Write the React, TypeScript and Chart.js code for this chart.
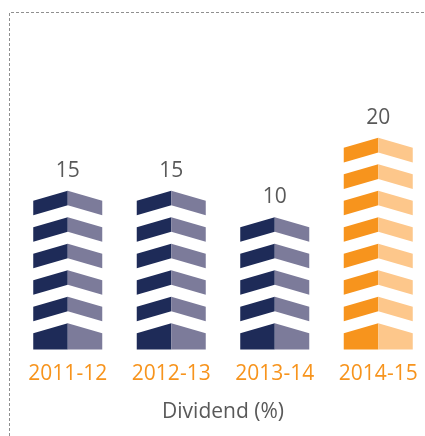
import React, { useEffect, useRef } from "react";
import { Chart, registerables } from "chart.js";

Chart.register(...registerables);

// ---- data ----
const categories = ["2011-12", "2012-13", "2013-14", "2014-15"];
const dividendPercent = [15, 15, 10, 20];
const iconSegments = [6, 6, 5, 8]; // pictogram units drawn per bar
const axisTitle = "Dividend (%)";

// ---- styles ----
const NAVY_DARK = "#1e2b58";
const NAVY_LIGHT = "#7c7b9a";
const ORANGE_DARK = "#f7941d";
const ORANGE_LIGHT = "#fdc78b";
const darkFill = [NAVY_DARK, NAVY_DARK, NAVY_DARK, ORANGE_DARK];
const lightFill = [NAVY_LIGHT, NAVY_LIGHT, NAVY_LIGHT, ORANGE_LIGHT];
const FONT = "'Open Sans', sans-serif";
const FONT_SIZE = 21;

const chevronPlugin = {
  id: "chevrons",
  beforeDraw(chart: any) {
    const ctx = chart.ctx;
    ctx.save();
    ctx.strokeStyle = "#8f8f8f";
    ctx.lineWidth = 1;
    ctx.setLineDash([3, 2]);
    ctx.beginPath();
    ctx.moveTo(9.5, 436);
    ctx.lineTo(9.5, 12.5);
    ctx.lineTo(440, 12.5);
    ctx.stroke();
    ctx.restore();
  },
  afterDatasetsDraw(chart: any) {
    const ctx = chart.ctx;
    const yScale = chart.scales.y;
    const meta = chart.getDatasetMeta(0);
    const ds = chart.data.datasets[0];
    meta.data.forEach((bar: any, i: number) => {
      const n = ds.data[i] as number;
      const half = bar.width / 2;
      const L = bar.x - half;
      const C = bar.x;
      const R = bar.x + half;
      const dy = half * 0.29;
      for (let k = 0; k < n; k++) {
        const yB = yScale.getPixelForValue(k);
        const yT = yScale.getPixelForValue(k + 1);
        const t = (yB - yT) * 0.55;
        // left half
        ctx.fillStyle = darkFill[i];
        ctx.beginPath();
        if (k === 0) {
          ctx.moveTo(L, yT + dy);
          ctx.lineTo(C, yT);
          ctx.lineTo(C, yB);
          ctx.lineTo(L, yB);
        } else {
          ctx.moveTo(L, yT + dy);
          ctx.lineTo(C, yT);
          ctx.lineTo(C, yT + t);
          ctx.lineTo(L, yT + dy + t);
        }
        ctx.closePath();
        ctx.fill();
        // right half
        ctx.fillStyle = lightFill[i];
        ctx.beginPath();
        if (k === 0) {
          ctx.moveTo(C, yT);
          ctx.lineTo(R, yT + dy);
          ctx.lineTo(R, yB);
          ctx.lineTo(C, yB);
        } else {
          ctx.moveTo(C, yT);
          ctx.lineTo(R, yT + dy);
          ctx.lineTo(R, yT + dy + t);
          ctx.lineTo(C, yT + t);
        }
        ctx.closePath();
        ctx.fill();
      }
      // value label
      const topY = yScale.getPixelForValue(n);
      ctx.save();
      ctx.fillStyle = "#595959";
      ctx.font = `${FONT_SIZE}px ${FONT}`;
      ctx.textAlign = "center";
      ctx.textBaseline = "middle";
      ctx.fillText(String(dividendPercent[i]), C, topY - 20);
      ctx.restore();
    });
  },
};

export default function App() {
  const ref = useRef<HTMLCanvasElement | null>(null);
  useEffect(() => {
    if (!ref.current) return;
    const chart = new Chart(ref.current, {
      type: "bar",
      data: {
        labels: categories,
        datasets: [
          {
            data: iconSegments,
            backgroundColor: "rgba(0,0,0,0)",
            borderWidth: 0,
            barPercentage: 0.6667,
            categoryPercentage: 1,
          },
        ],
      },
      options: {
        responsive: false,
        animation: false,
        events: [],
        layout: { padding: { left: 16, right: 10, top: 32, bottom: 11 } },
        plugins: { legend: { display: false }, tooltip: { enabled: false } },
        scales: {
          x: {
            grid: { display: false, drawTicks: false },
            border: { display: false },
            ticks: {
              color: ORANGE_DARK,
              font: { family: FONT, size: FONT_SIZE },
              padding: 12,
              maxRotation: 0,
            },
            title: {
              display: true,
              text: axisTitle,
              color: "#595959",
              font: { family: FONT, size: FONT_SIZE },
              padding: { top: 1, bottom: 0 },
            },
          },
          y: { display: false, min: 0, max: 12 },
        },
      },
      plugins: [chevronPlugin],
    });
    return () => chart.destroy();
  }, []);
  return (
    <div style={{ position: "absolute", left: 0, top: 0, width: 425, height: 436, overflow: "hidden", background: "#fff" }}>
      <canvas ref={ref} width={440} height={436} style={{ width: 440, height: 436, display: "block" }} />
    </div>
  );
}
